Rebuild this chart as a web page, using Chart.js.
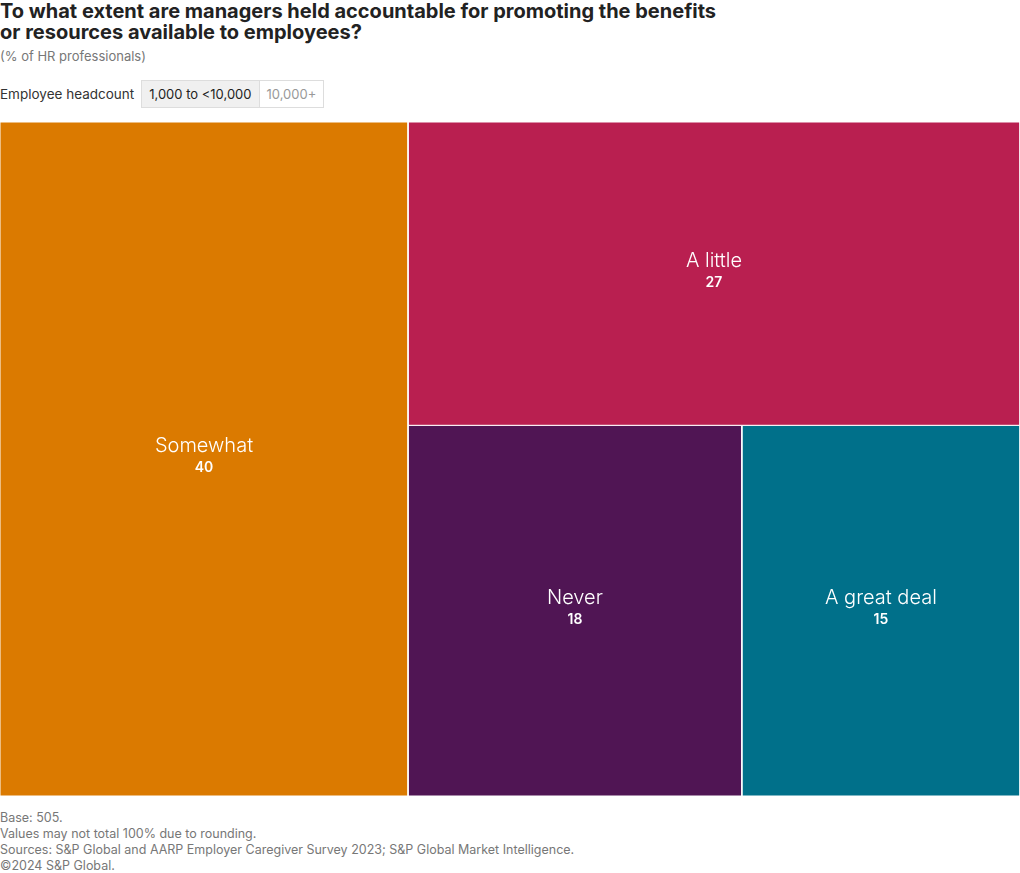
<!DOCTYPE html>
<html>
<head>
<meta charset="utf-8">
<script src="https://cdn.jsdelivr.net/npm/chart.js@4.4.0/dist/chart.umd.min.js"></script>
<style>
  body { margin: 0; background: #fff; font-family: Inter, Roboto, sans-serif; color: #1f1f1f; }
  #wrap { position: relative; width: 1020px; height: 873px; }
  h1 { position: absolute; left: 0; top: 1px; margin: 0; font-size: 20px; line-height: 21px; font-weight: 700; color: #222; }
  .sub { position: absolute; left: 0; top: 48px; font-size: 13px; color: #777; }
  .ctrl { position: absolute; left: 0; top: 80px; height: 28px; display: flex; align-items: center; font-size: 13.5px; }
  .ctrl .lbl { color: #333; margin-right: 7px; }
  .btn { height: 26px; line-height: 26px; padding: 0 7px; border: 1px solid #ddd; font-size: 13px; }
  .btn.on { background: #f0f0f0; color: #222; }
  .btn.off { color: #999; border-left: none; }
  #box { position: absolute; left: 0; top: 122px; width: 1020px; height: 674px; }
  .notes { position: absolute; left: 0; top: 810px; font-size: 12.5px; line-height: 16px; color: #777; }
</style>
</head>
<body>
<div id="wrap">
  <h1>To what extent are managers held accountable for promoting the benefits<br>or resources available to employees?</h1>
  <div class="sub">(% of HR professionals)</div>
  <div class="ctrl">
    <span class="lbl">Employee headcount</span>
    <span class="btn on">1,000 to &lt;10,000</span><span class="btn off">10,000+</span>
  </div>
  <div id="box"><canvas id="treeChart"></canvas></div>
  <div class="notes">
    Base: 505.<br>
    Values may not total 100% due to rounding.<br>
    Sources: S&amp;P Global and AARP Employer Caregiver Survey 2023; S&amp;P Global Market Intelligence.<br>
    &copy;2024 S&amp;P Global.
  </div>
</div>
<script>
// Treemap data (% of HR professionals)
const categories = ['Somewhat', 'A little', 'Never', 'A great deal'];
const values = [40, 27, 18, 15];
const colors = ['#db7a00', '#b91f50', '#501554', '#00708a'];

// Data space of the treemap box (same ratio as the drawing area)
const BOX_W = 1020;
const BOX_H = 674;

/**
 * Squarified treemap layout in data units
 */
function squarify(vals, x, y, w, h) {
    const total = vals.reduce((a, b) => a + b, 0);
    const areas = vals.map(v => v / total * w * h);
    const rects = [];
    let i = 0;

    function worst(row, side) {
        const s = row.reduce((a, b) => a + b, 0);
        let m = 0;
        row.forEach(r => {
            const len = r / (s / side);
            const thick = s / side;
            m = Math.max(m, Math.max(len / thick, thick / len));
        });
        return m;
    }

    while (i < areas.length) {
        const side = Math.min(w, h);
        let row = [areas[i]];
        let j = i + 1;
        while (j < areas.length && worst(row.concat(areas[j]), side) <= worst(row, side)) {
            row.push(areas[j]);
            j++;
        }
        const s = row.reduce((a, b) => a + b, 0);
        const thick = s / side;
        let off = 0;
        row.forEach(a => {
            const len = a / thick;
            if (w >= h) {
                // column on the left
                rects.push({ x0: x, x1: x + thick, y0: y + off, y1: y + off + len });
            } else {
                // row along the top
                rects.push({ x0: x + off, x1: x + off + len, y0: y, y1: y + thick });
            }
            off += len;
        });
        if (w >= h) { x += thick; w -= thick; } else { y += thick; h -= thick; }
        i = j;
    }
    return rects;
}

const rects = squarify(values, 0, 0, BOX_W, BOX_H);

// Each tile is a closed line path filled as a shape
const datasets = rects.map((r, idx) => ({
    label: categories[idx],
    data: [
        { x: r.x0, y: r.y0 }, { x: r.x1, y: r.y0 },
        { x: r.x1, y: r.y1 }, { x: r.x0, y: r.y1 }, { x: r.x0, y: r.y0 }
    ],
    showLine: true,
    fill: 'shape',
    backgroundColor: colors[idx],
    borderColor: '#ffffff',
    borderWidth: 1,
    pointRadius: 0,
    tension: 0
}));

// Draw the category name and value in each tile
const tileLabels = {
    id: 'tileLabels',
    afterDatasetsDraw(chart) {
        const { ctx, scales } = chart;
        ctx.save();
        ctx.fillStyle = '#ffffff';
        ctx.textAlign = 'center';
        ctx.textBaseline = 'middle';
        rects.forEach((r, idx) => {
            const cx = scales.x.getPixelForValue((r.x0 + r.x1) / 2);
            const cy = scales.y.getPixelForValue((r.y0 + r.y1) / 2);
            ctx.font = '300 20px Inter, sans-serif';
            ctx.fillText(categories[idx], cx, cy - 13);
            ctx.font = '600 14px Inter, sans-serif';
            ctx.fillText(String(values[idx]), cx, cy + 9);
        });
        ctx.restore();
    }
};

new Chart(document.getElementById('treeChart'), {
    type: 'scatter',
    data: { datasets: datasets },
    options: {
        responsive: true,
        maintainAspectRatio: false,
        animation: false,
        layout: { padding: 0 },
        plugins: {
            legend: { display: false },
            tooltip: { enabled: false }
        },
        scales: {
            x: { type: 'linear', min: 0, max: BOX_W, display: false },
            y: { type: 'linear', min: 0, max: BOX_H, reverse: true, display: false }
        }
    },
    plugins: [tileLabels]
});
</script>
</body>
</html>
